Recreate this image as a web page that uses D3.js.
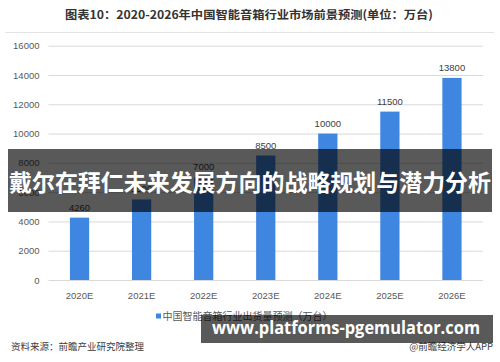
<!DOCTYPE html>
<html>
<head>
<meta charset="utf-8">
<script src="https://cdn.jsdelivr.net/npm/d3@7"></script>
<style>
  body { margin: 0; background: #fff; }
  svg { display: block; font-family: "Noto Sans CJK SC", "Noto Sans", sans-serif; }
</style>
</head>
<body>
<svg id="chart"></svg>
<script>
const width = 500;
const height = 362;

const years = ['2020E', '2021E', '2022E', '2023E', '2024E', '2025E', '2026E'];
const shipments = [4260, 5500, 7000, 8500, 10000, 11500, 13800];
const yTicks = [0, 2000, 4000, 6000, 8000, 10000, 12000, 14000, 16000];

const title = '图表10：2020-2026年中国智能音箱行业市场前景预测(单位：万台)';
const legendLabel = '中国智能音箱行业出货量预测（万台）';
const sourceLabel = '资料来源：前瞻产业研究院整理';
const appLabel = '@前瞻经济学人APP';
const banner = '戴尔在拜仁未来发展方向的战略规划与潜力分析';
const siteLabel = 'www.platforms-pgemulator.com';

const svg = d3.select('#chart')
    .attr('width', width)
    .attr('height', height);

const x = d3.scaleBand().domain(years).range([48.5, 483])
    .paddingInner(0.69).paddingOuter(0.345);
const y = d3.scaleLinear().domain([0, 16000]).range([280, 45.7]);

// title
svg.append('text')
    .attr('x', 249).attr('y', 19)
    .attr('text-anchor', 'middle')
    .attr('font-size', 11.5).attr('font-weight', 'bold')
    .attr('fill', '#333')
    .attr('textLength', 368).attr('lengthAdjust', 'spacingAndGlyphs')
    .text(title);

svg.append('line')
    .attr('x1', 5).attr('x2', 494)
    .attr('y1', 32.5).attr('y2', 32.5)
    .attr('stroke', '#e3e3e3');

// grid + y labels
const yAxis = svg.append('g')
    .attr('transform', 'translate(48.5,0)')
    .call(d3.axisLeft(y).tickValues(yTicks).tickFormat(d3.format('d'))
        .tickSize(-(483 - 48.5)).tickPadding(9));
yAxis.select('.domain').remove();
yAxis.selectAll('.tick line').attr('stroke', '#d9d9d9');
yAxis.selectAll('.tick text')
    .attr('fill', '#595959').attr('font-size', 9.5)
    .attr('font-family', '"Liberation Sans", Arial, sans-serif');

// x labels
const xAxis = svg.append('g')
    .attr('transform', 'translate(0,280)')
    .call(d3.axisBottom(x).tickSize(0).tickPadding(12));
xAxis.select('.domain').remove();
xAxis.selectAll('.tick text')
    .attr('fill', '#595959').attr('font-size', 9.5)
    .attr('font-family', '"Liberation Sans", Arial, sans-serif');

// bars
svg.append('g').selectAll('rect')
    .data(years).enter()
    .append('rect')
    .attr('x', d => x(d))
    .attr('width', x.bandwidth())
    .attr('y', (d, i) => y(shipments[i]))
    .attr('height', (d, i) => y(0) - y(shipments[i]))
    .attr('fill', '#3f86e0');

svg.append('g').selectAll('text')
    .data(years).enter()
    .append('text')
    .attr('x', d => x(d) + x.bandwidth() / 2)
    .attr('y', (d, i) => y(shipments[i]) - 7)
    .attr('text-anchor', 'middle')
    .attr('font-size', 9.5)
    .attr('font-family', '"Liberation Sans", Arial, sans-serif')
    .attr('fill', '#404040')
    .text((d, i) => shipments[i]);

// legend
svg.append('rect')
    .attr('x', 156).attr('y', 313.5)
    .attr('width', 5).attr('height', 5)
    .attr('fill', '#3f86e0');
svg.append('text')
    .attr('x', 162.5).attr('y', 320)
    .attr('font-size', 10).attr('fill', '#595959')
    .text(legendLabel);

// footer
svg.append('text')
    .attr('x', 11).attr('y', 350)
    .attr('font-size', 9.5).attr('fill', '#404040')
    .text(sourceLabel);
svg.append('text')
    .attr('x', 493).attr('y', 350)
    .attr('text-anchor', 'end')
    .attr('font-size', 9.5).attr('fill', '#404040')
    .text(appLabel);

// banner overlay
svg.append('rect')
    .attr('x', 8).attr('y', 149)
    .attr('width', 484).attr('height', 63)
    .attr('fill', 'rgba(0,0,0,0.65)');
svg.append('text')
    .attr('x', 250).attr('y', 191)
    .attr('text-anchor', 'middle')
    .attr('font-size', 23).attr('font-weight', 'bold')
    .attr('fill', '#fff')
    .attr('textLength', 482).attr('lengthAdjust', 'spacingAndGlyphs')
    .text(banner);

// site box
svg.append('rect')
    .attr('x', 201).attr('y', 315)
    .attr('width', 292).attr('height', 28)
    .attr('fill', 'rgba(0,0,0,0.65)');
svg.append('text')
    .attr('x', 346).attr('y', 334)
    .attr('text-anchor', 'middle')
    .attr('font-size', 17).attr('font-weight', 'bold')
    .attr('font-family', '"Open Sans", sans-serif')
    .attr('fill', '#fff')
    .attr('textLength', 268).attr('lengthAdjust', 'spacingAndGlyphs')
    .text(siteLabel);
</script>
</body>
</html>
